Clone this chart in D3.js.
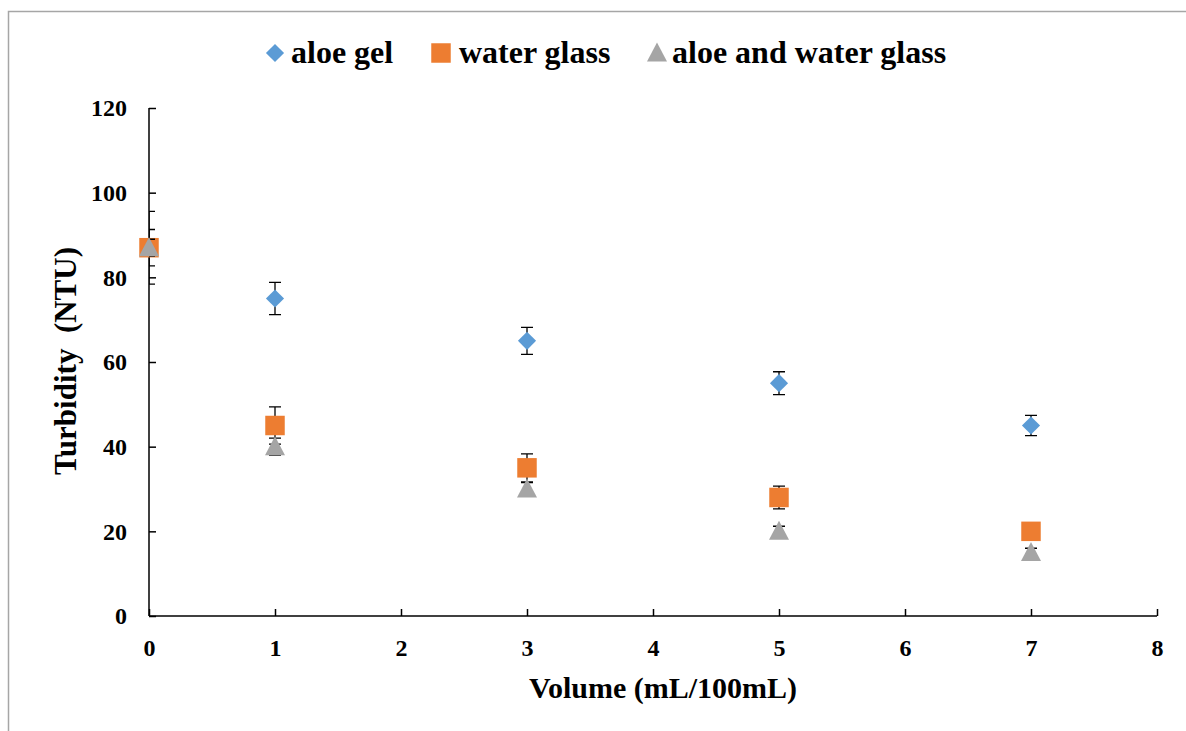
<!DOCTYPE html>
<html lang="en">
<head>
<meta charset="UTF-8">
<title>Turbidity</title>
<script src="https://cdn.jsdelivr.net/npm/d3@7"></script>
<style>
  body { margin: 0; background: #fff; }
  text { font-family: "Liberation Serif", "Times New Roman", serif; font-weight: bold; fill: #000; }
</style>
</head>
<body>
<div id="grafica"></div>
<script>
// datos
const volumen = [0, 1, 3, 5, 7]
const aloeGel = [87, 75, 65, 55, 45]
const aloeGelErr = [4.3, 3.8, 3.2, 2.7, 2.4]
const waterGlass = [87, 45, 35, 28, 20]
const waterGlassErr = [8.6, 4.4, 3.3, 2.7, 1]
const aloeWater = [87, 40, 30, 20, 15]
const aloeWaterErr = [2, 2, 1.5, 1.2, 1]
const xTicks = [0, 1, 2, 3, 4, 5, 6, 7, 8]
const yTicks = [0, 20, 40, 60, 80, 100, 120]

const series = [
  { name: 'aloe gel', vals: aloeGel, err: aloeGelErr, color: '#5B9BD5', shape: 'diamond' },
  { name: 'water glass', vals: waterGlass, err: waterGlassErr, color: '#ED7D31', shape: 'square' },
  { name: 'aloe and water glass', vals: aloeWater, err: aloeWaterErr, color: '#A5A5A5', shape: 'triangle' }
]

const ancho = 1186, alto = 731
const m = { left: 149, right: 1157, top: 108, bottom: 616 }

const svg = d3.select('#grafica').append('svg')
  .attr('width', ancho).attr('height', alto)

// marco
svg.append('path')
  .attr('d', 'M8.5,' + (alto + 5) + 'V11.5H' + (ancho + 5))
  .attr('fill', 'none').attr('stroke', '#A6A6A6').attr('stroke-width', 1.5)

const x = d3.scaleLinear().domain([0, 8]).range([m.left, m.right])
const y = d3.scaleLinear().domain([0, 120]).range([m.bottom, m.top])

// ejes
const ejeY = svg.append('g').attr('transform', 'translate(' + m.left + ',0)')
  .call(d3.axisRight(y).tickValues(yTicks).tickSize(7).tickFormat(d3.format('d')))
ejeY.select('.domain').remove()
ejeY.selectAll('line').attr('stroke', '#000').attr('stroke-width', 1.5)
ejeY.selectAll('text').attr('x', -22).attr('text-anchor', 'end').attr('font-size', 24).attr('dy', '0.33em')

const ejeX = svg.append('g').attr('transform', 'translate(0,' + m.bottom + ')')
  .call(d3.axisTop(x).tickValues(xTicks).tickSize(7).tickFormat(d3.format('d')))
ejeX.select('.domain').remove()
ejeX.selectAll('line').attr('stroke', '#000').attr('stroke-width', 1.5)
ejeX.selectAll('text').attr('y', 40).attr('font-size', 24).attr('dy', 0)

svg.append('line').attr('x1', m.left).attr('x2', m.left).attr('y1', m.top).attr('y2', m.bottom)
  .attr('stroke', '#000').attr('stroke-width', 1.5)
svg.append('line').attr('x1', m.left).attr('x2', m.right).attr('y1', m.bottom).attr('y2', m.bottom)
  .attr('stroke', '#000').attr('stroke-width', 1.5)

// titulos
svg.append('text').attr('x', 663).attr('y', 698)
  .attr('text-anchor', 'middle').attr('font-size', 30).text('Volume (mL/100mL)')
svg.append('text').attr('transform', 'translate(76,361) rotate(-90)')
  .attr('text-anchor', 'middle').attr('font-size', 31).text('Turbidity\u00a0\u00a0(NTU)')

svg.append('clipPath').attr('id', 'area').append('rect')
  .attr('x', m.left).attr('y', 0).attr('width', m.right - m.left + 20).attr('height', alto)

function simbolo(shape) {
  if (shape === 'diamond') return d3.symbol(d3.symbolDiamond2, 210)()
  if (shape === 'square') return d3.symbol(d3.symbolSquare, 380)()
  return 'M0,-10.5L10,8.5L-10,8.5Z'
}

const g = svg.append('g')
series.forEach(function(s) {
  const pts = volumen.map((v, i) => ({ x: v, y: s.vals[i], e: s.err[i] }))
  const eb = g.append('g').attr('clip-path', 'url(#area)')
  pts.forEach(function(d) {
    const cx = x(d.x)
    eb.append('path')
      .attr('d', 'M' + cx + ',' + y(d.y + d.e) + 'V' + y(d.y - d.e) +
        'M' + (cx - 6) + ',' + y(d.y + d.e) + 'H' + (cx + 6) +
        'M' + (cx - 6) + ',' + y(d.y - d.e) + 'H' + (cx + 6))
      .attr('stroke', '#000').attr('stroke-width', 1.3).attr('fill', 'none')
  })
  g.append('g').selectAll('path').data(pts).enter().append('path')
    .attr('transform', d => 'translate(' + x(d.x) + ',' + y(d.y) + ')')
    .attr('d', simbolo(s.shape))
    .attr('fill', s.color)
})

// leyenda
const leyX = [275, 441, 657]
const leyTx = [291, 459, 672]
series.forEach(function(s, i) {
  svg.append('path').attr('transform', 'translate(' + leyX[i] + ',53)')
    .attr('d', simbolo(s.shape)).attr('fill', s.color)
  svg.append('text').attr('x', leyTx[i]).attr('y', 63)
    .attr('font-size', 32).text(s.name)
})
</script>
</body>
</html>
